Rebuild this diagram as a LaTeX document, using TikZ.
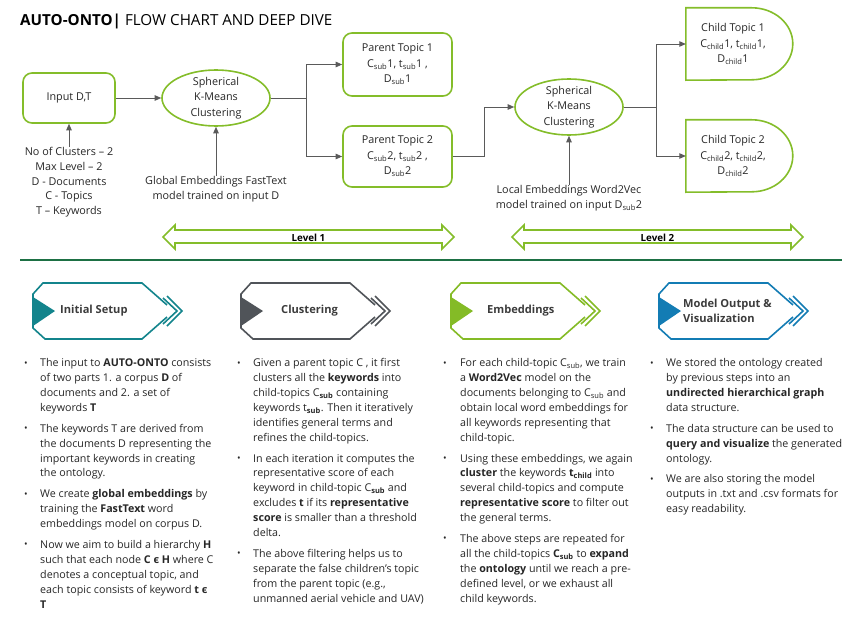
\documentclass[tikz,border=0pt]{standalone}
\usepackage{fontspec}
\setmainfont{Open Sans}
\usepackage{xcolor}
\usetikzlibrary{arrows.meta,positioning,calc,shapes.geometric}
\definecolor{ongreen}{HTML}{84BD2A}
\definecolor{arrgray}{HTML}{5A5A5A}
\definecolor{rulegreen}{HTML}{1D7044}
\definecolor{tealc}{HTML}{13848C}
\definecolor{slatec}{HTML}{505459}
\definecolor{leafc}{HTML}{84BB26}
\definecolor{oceanc}{HTML}{137CB4}
\definecolor{inkc}{HTML}{262626}
\newcommand{\flowfont}{\fontsize{10.8}{15.5}\selectfont}
\newcommand{\notefont}{\fontsize{10.8}{14.8}\selectfont}
\newcommand{\bodyfont}{\fontsize{10.7}{14.9}\selectfont}
\newcommand{\bul}{\raisebox{0.6pt}{\fontsize{9.5}{9.5}\selectfont\textbullet}}

\begin{document}
\begin{tikzpicture}[x=1pt,y=-1pt,
    every node/.style={inner sep=0pt,text=inkc},
    topic/.style={draw=ongreen,line width=1.6pt,rounded corners=9pt,align=center,font=\flowfont},
    cluster/.style={ellipse,draw=ongreen,line width=1.6pt,minimum width=108pt,minimum height=56pt},
    label/.style={align=center,font=\flowfont},
    note/.style={align=center,font=\notefont},
    flow/.style={-{Triangle[length=6.5pt,width=5.5pt]},line width=0.9pt,arrgray},
    childline/.style={draw=ongreen,line width=1.6pt},
    lvl/.style={draw=ongreen,line width=1.6pt,fill=white},
    bannerline/.style={line width=1.6pt},
    head/.style={anchor=west,align=left,font=\fontsize{11.1}{15}\selectfont\bfseries,text=inkc!90},
    col/.style={anchor=north west,align=left,font=\bodyfont}
]
\useasboundingbox (0,0) rectangle (863,618);
\node[anchor=base west,font=\fontsize{15.2}{18}\selectfont,text=black] (title) at (20,26) {\textbf{AUTO-ONTO|} FLOW CHART AND DEEP DIVE};
\node[topic,minimum width=92pt,minimum height=50pt] (input) at (69,98) {Input D,T};
\node[cluster] (sk1) at (216,98) {};
\node[label] (sk1txt) at (sk1) {Spherical\\K-Means\\Clustering};
\node[topic,minimum width=109pt,minimum height=63pt] (pt1) at (397.5,64.5) {Parent Topic 1\\C\textsubscript{sub}1, t\textsubscript{sub}1 ,\\D\textsubscript{sub}1};
\node[topic,minimum width=109pt,minimum height=61pt] (pt2) at (397.5,156.5) {Parent Topic 2\\C\textsubscript{sub}2, t\textsubscript{sub}2 ,\\D\textsubscript{sub}2};
\node[cluster] (sk2) at (569,107) {};
\node[label] (sk2txt) at (sk2) {Spherical\\K-Means\\Clustering};
\node[label,minimum width=94pt,minimum height=72pt] (ct1) at (733,44) {Child Topic 1\\C\textsubscript{child}1, t\textsubscript{child}1,\\D\textsubscript{child}1};
\node[label,minimum width=94pt,minimum height=72pt] (ct2) at (733,156) {Child Topic 2\\C\textsubscript{child}2, t\textsubscript{child}2,\\D\textsubscript{child}2};
\foreach \ct in {ct1,ct2}
    \draw[childline] (\ct.north west) -- ++(66,0) .. controls +(22.6,0) and +(0,-19.9) .. ++(41,36)
        .. controls +(0,19.9) and +(22.6,0) .. ++(-41,36) -- (\ct.south west) -- cycle;
\node[note,anchor=north] (params) at (69,147) {No of Clusters -- 2\\Max Level -- 2\\D - Documents\\C - Topics\\T -- Keywords};
\node[note,anchor=north] (glob) at (216,176) {Global Embeddings FastText\\model trained on input D};
\node[note,anchor=north] (loc) at (569,185) {Local Embeddings Word2Vec\\model trained on input D\textsubscript{sub}2};
\draw[flow] (input) -- (sk1);
\draw[flow] (params) -- (input);
\draw[flow] (glob) -- (sk1);
\draw[flow] (loc) -- (sk2);
\foreach \pt in {pt1,pt2}
    \draw[flow] (sk1.east) -- ++(36,0) |- (\pt.west);
\draw[flow] (pt2.east) -- ++(32,0) |- (sk2.west);
\foreach \ct in {ct1,ct2}
    \draw[flow] (sk2.east) -- ++(33,0) |- (\ct.west);
\foreach \a/\b/\lv in {163/454/1,512/803/2} {
    \draw[lvl] (\a,237) -- ++(12,-12) -- ++(0,5) -- (\b-12,230) -- ++(0,-5) -- (\b,237) -- ++(-12,12)
        -- ++(0,-6) -- (\a+12,243) -- ++(0,6) -- cycle;
    \node[font=\fontsize{9.8}{11}\selectfont\bfseries,text=black] (level\lv) at ({(\a+\b)/2},238) {Level \lv};
}
\draw[rulegreen,line width=1.2pt] (20,260) -- (842,260);
\foreach \xl/\col/\tx/\name/\txt in {33/tealc/27/setup/{Initial Setup},241/slatec/40/clust/{Clustering},
        451/leafc/36/embed/{Embeddings},659/oceanc/24/output/{Model Output \&\\Visualization}} {
    \draw[bannerline,\col] (\xl+134,305) -- (\xl+109,283) -- (\xl+10,283) -- (\xl,294) -- (\xl,328)
        -- (\xl+12,339) -- (\xl+109,339) -- (\xl+134,317);
    \draw[bannerline,\col] (\xl+130,298) -- (\xl+144,311) -- (\xl+130,324) (\xl+134,296) -- (\xl+149,311) -- (\xl+134,326);
    \fill[\col] (\xl,297) -- (\xl+22,311) -- (\xl,326) -- cycle;
    \node[head] (\name) at (\xl+\tx,311) {\txt};
}
\node[col] (col1) at (24,356) {\begin{tabular}{@{}p{16pt}@{}l@{}}
\bul & The input to \textbf{AUTO-ONTO} consists\\
 & of two parts 1. a corpus \textbf{D} of\\
 & documents and 2. a set of\\
 & keywords \textbf{T}\\[6pt]
\bul & The keywords T are derived from\\
 & the documents D representing the\\
 & important keywords in creating\\
 & the ontology.\\[6pt]
\bul & We create \textbf{global embeddings} by\\
 & training the \textbf{FastText} word\\
 & embeddings model on corpus D.\\[6pt]
\bul & Now we aim to build a hierarchy \textbf{H}\\
 & such that each node \textbf{C є H} where C\\
 & denotes a conceptual topic, and\\
 & each topic consists of keyword \textbf{t є}\\
 & \textbf{T}
\end{tabular}};
\node[col] (col2) at (237,356) {\begin{tabular}{@{}p{16pt}@{}l@{}}
\bul & Given a parent topic C , it first\\
 & clusters all the \textbf{keywords} into\\
 & child-topics C\textsubscript{\textbf{sub}} containing\\
 & keywords t\textsubscript{\textbf{sub}}. Then it iteratively\\
 & identifies general terms and\\
 & refines the child-topics.\\[6pt]
\bul & In each iteration it computes the\\
 & representative score of each\\
 & keyword in child-topic C\textsubscript{\textbf{sub}} and\\
 & excludes \textbf{t} if its \textbf{representative}\\
 & \textbf{score} is smaller than a threshold\\
 & delta.\\[6pt]
\bul & The above filtering helps us to\\
 & separate the false children’s topic\\
 & from the parent topic (e.g.,\\
 & unmanned aerial vehicle and UAV)
\end{tabular}};
\node[col] (col3) at (443,356) {\begin{tabular}{@{}p{17pt}@{}l@{}}
\bul & For each child-topic C\textsubscript{sub}, we train\\
 & a \textbf{Word2Vec} model on the\\
 & documents belonging to C\textsubscript{sub} and\\
 & obtain local word embeddings for\\
 & all keywords representing that\\
 & child-topic.\\[6pt]
\bul & Using these embeddings, we again\\
 & \textbf{cluster} the keywords \textbf{t\textsubscript{child}} into\\
 & several child-topics and compute\\
 & \textbf{representative score} to filter out\\
 & the general terms.\\[6pt]
\bul & The above steps are repeated for\\
 & all the child-topics \textbf{C\textsubscript{sub}} to \textbf{expand}\\
 & the \textbf{ontology} until we reach a pre-\\
 & defined level, or we exhaust all\\
 & child keywords.
\end{tabular}};
\node[col] (col4) at (650,356) {\begin{tabular}{@{}p{16pt}@{}l@{}}
\bul & We stored the ontology created\\
 & by previous steps into an\\
 & \textbf{undirected hierarchical graph}\\
 & data structure.\\[6pt]
\bul & The data structure can be used to\\
 & \textbf{query and visualize} the generated\\
 & ontology.\\[6pt]
\bul & We are also storing the model\\
 & outputs in .txt and .csv formats for\\
 & easy readability.
\end{tabular}};
\end{tikzpicture}
\end{document}
